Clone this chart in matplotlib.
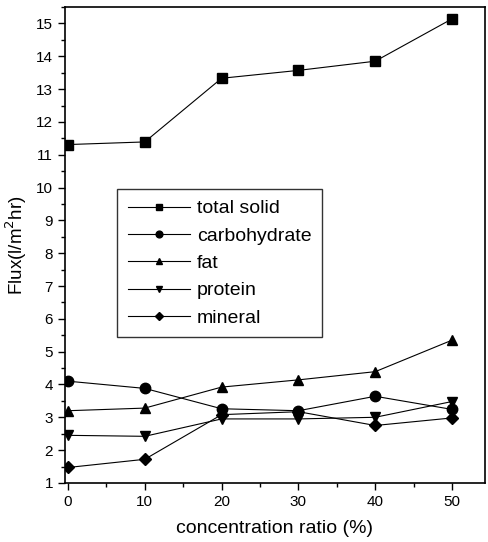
import matplotlib
matplotlib.use("Agg")
import matplotlib.pyplot as plt
from matplotlib.ticker import MultipleLocator

plt.rcParams['font.family'] = ['Liberation Sans', 'DejaVu Sans']

ratio = [0, 10, 20, 30, 40, 50]
total_solid = [11.31, 11.39, 13.33, 13.57, 13.85, 15.14]
carbohydrate = [4.10, 3.88, 3.26, 3.20, 3.64, 3.24]
fat = [3.20, 3.28, 3.92, 4.14, 4.39, 5.35]
protein = [2.45, 2.42, 2.95, 2.95, 3.00, 3.48]
mineral = [1.47, 1.72, 3.08, 3.17, 2.75, 2.98]

series = [
    ("total solid", total_solid, "s"),
    ("carbohydrate", carbohydrate, "o"),
    ("fat", fat, "^"),
    ("protein", protein, "v"),
    ("mineral", mineral, "D"),
]

fig = plt.figure(figsize=(4.88, 5.42), dpi=100)
ax = fig.add_axes([0.133, 0.109, 0.861, 0.878])

for name, vals, mk in series:
    ms = 6 if mk == "D" else 7.5
    ax.plot(ratio, vals, color="black", linewidth=0.8, marker=mk,
            markersize=ms, markerfacecolor="black", markeredgecolor="black",
            label=name)

ax.set_xlim(-0.4, 54.3)
ax.set_ylim(1, 15.5)
ax.xaxis.set_major_locator(MultipleLocator(10))
ax.xaxis.set_minor_locator(MultipleLocator(5))
ax.yaxis.set_major_locator(MultipleLocator(1))
ax.yaxis.set_minor_locator(MultipleLocator(0.5))
ax.tick_params(which="major", direction="out", length=5, width=1,
               labelsize=11, top=False, right=False)
ax.tick_params(which="minor", direction="out", length=3, width=1,
               top=False, right=False)
for sp in ax.spines.values():
    sp.set_linewidth(1.2)

ax.set_xlabel("concentration ratio (%)", fontsize=14, labelpad=8)
ax.set_ylabel("Flux(l/m$^2$hr)", fontsize=13.5, labelpad=5)

leg = ax.legend(loc="upper left", bbox_to_anchor=(117 / 488, 1 - 189 / 542),
                bbox_transform=fig.transFigure, fontsize=14, frameon=True,
                fancybox=False, edgecolor="black", handlelength=3.2,
                handletextpad=0.35, labelspacing=0.5, borderpad=0.55,
                borderaxespad=0, markerscale=0.65)
leg.get_frame().set_linewidth(1.0)

fig.savefig("out.png", dpi=100)
